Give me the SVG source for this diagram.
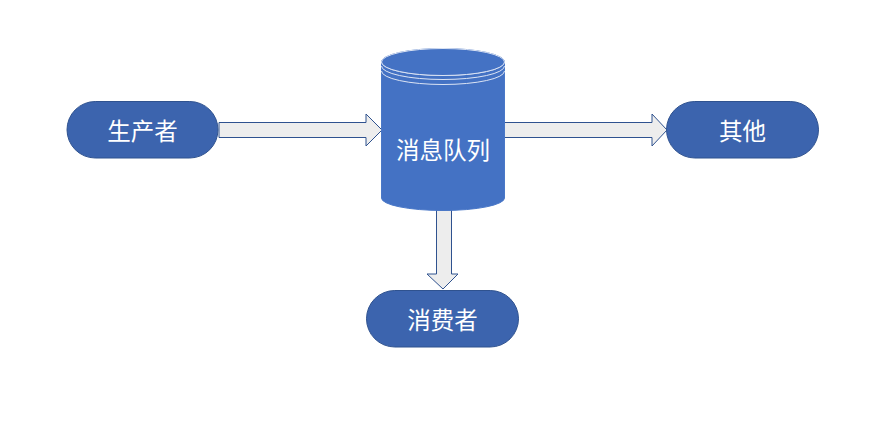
<svg xmlns="http://www.w3.org/2000/svg" width="890" height="424" viewBox="0 0 890 424">
<style>
.pill{fill:#3C64AE;stroke:#2F528F;stroke-width:1}
.arrow{fill:#EDEDED;stroke:#2F528F;stroke-width:1;stroke-linejoin:miter}
.lbl{font-family:"Noto Sans CJK SC","Noto Sans",sans-serif;font-size:23.5px;fill:#FFFFFF;text-anchor:middle;dominant-baseline:central}
.ring{fill:none;stroke:#DCE4F4;stroke-width:1}
</style>
<rect width="890" height="424" fill="#FFFFFF"/>
<g id="connectors">
<polygon class="arrow" points="219,122.5 366,122.5 366,114 382,130 366,146 366,137.5 219,137.5"/>
<polygon class="arrow" points="504,122.5 652,122.5 652,114 667,130 652,146 652,137.5 504,137.5"/>
<polygon class="arrow" points="436.5,210 451.5,210 451.5,274 458,274 443,289 427,274 436.5,274"/>
</g>
<g id="producer">
<rect class="pill" x="67" y="101.5" width="151" height="56.5" rx="28.25"/>
<text class="lbl" x="142.5" y="130">生产者</text>
</g>
<g id="queue">
<path d="M381.5,62 L381.5,198 A61.5,12.5 0 0 0 504.5,198 L504.5,62 A61.5,13.5 0 0 0 381.5,62 Z" fill="#4472C4" stroke="#4A78C8" stroke-width="1"/>
<path class="ring" d="M381.5,62 A61.5,13.5 0 0 0 504.5,62"/>
<path class="ring" d="M381.5,66 A61.5,13.5 0 0 0 504.5,66"/>
<path class="ring" d="M381.5,71 A61.5,13.5 0 0 0 504.5,71"/>
<ellipse cx="443" cy="62" rx="61.5" ry="13.5" fill="#4472C4" stroke="#DCE4F4" stroke-width="1"/>
<text class="lbl" x="443" y="149">消息队列</text>
</g>
<g id="other">
<rect class="pill" x="666.5" y="101.5" width="152" height="56.5" rx="28.25"/>
<text class="lbl" x="742.5" y="130">其他</text>
</g>
<g id="consumer">
<rect class="pill" x="366.5" y="290.5" width="152" height="56.5" rx="28.25"/>
<text class="lbl" x="442.5" y="319">消费者</text>
</g>
</svg>
